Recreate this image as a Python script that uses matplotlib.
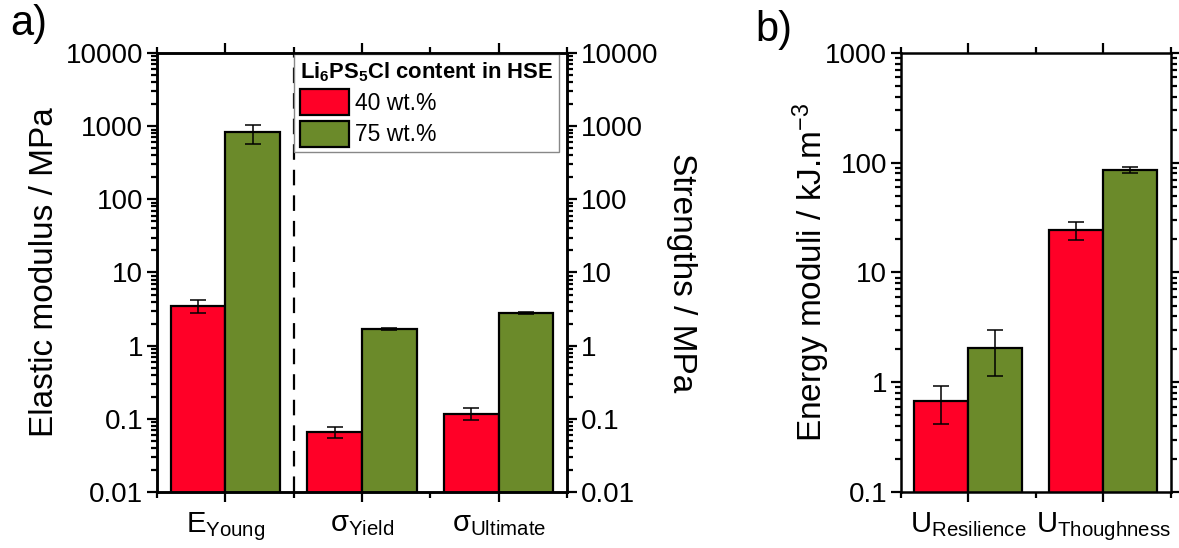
import numpy as np
import matplotlib
matplotlib.use('Agg')
import matplotlib.pyplot as plt
from matplotlib.patches import Patch
from matplotlib.ticker import LogLocator, FixedLocator, NullFormatter

plt.rcParams['font.family'] = ['Liberation Sans', 'DejaVu Sans']
plt.rcParams['mathtext.default'] = 'regular'

# panel a data
cats_a = ['$E_{Young}$', '$σ_{Yield}$', '$σ_{Ultimate}$']
a_40 = [3.5, 0.066, 0.118]
a_40_lo = [2.77, 0.054, 0.096]
a_40_hi = [4.2, 0.078, 0.142]
a_75 = [820, 1.7, 2.8]
a_75_lo = [570, 1.65, 2.75]
a_75_hi = [1045, 1.75, 2.85]

# panel b data
cats_b = ['$U_{Resilience}$', '$U_{Thoughness}$']
b_40 = [0.67, 24.2]
b_40_lo = [0.42, 19.7]
b_40_hi = [0.92, 28.6]
b_75 = [2.07, 86.3]
b_75_lo = [1.13, 80.0]
b_75_hi = [3.0, 91.6]

series = ['40 wt.%', '75 wt.%']
red = '#ff0027'
green = '#6b8a2a'

fig = plt.figure(figsize=(11.79, 5.48), dpi=100)
ax_a = fig.add_axes([0.1332, 0.1022, 0.3477, 0.8011])
ax_b = fig.add_axes([0.7642, 0.1022, 0.2290, 0.8011])

w = 0.4
bar_kw = dict(edgecolor='black', linewidth=1.6, zorder=2)
err_kw = dict(fmt='none', ecolor='black', elinewidth=1.1, capsize=5.5, capthick=1.1, zorder=3)


def draw_bars(ax, v40, lo40, hi40, v75, lo75, hi75):
    x = np.arange(len(v40))
    ax.bar(x - w / 2, v40, w, color=red, bottom=1e-5, **bar_kw)
    ax.bar(x + w / 2, v75, w, color=green, bottom=1e-5, **bar_kw)
    e40 = [np.array(v40) - np.array(lo40), np.array(hi40) - np.array(v40)]
    e75 = [np.array(v75) - np.array(lo75), np.array(hi75) - np.array(v75)]
    ax.errorbar(x - w / 2, v40, yerr=e40, **err_kw)
    ax.errorbar(x + w / 2, v75, yerr=e75, **err_kw)
    return x


def style(ax, n):
    ax.set_yscale('log')
    ax.set_xlim(-0.5, n - 0.5)
    ax.set_xticks(np.arange(n))
    ax.xaxis.set_minor_locator(FixedLocator(np.arange(n + 1) - 0.5))
    ax.yaxis.set_major_locator(LogLocator(base=10, numticks=20))
    ax.yaxis.set_minor_locator(LogLocator(base=10, subs=np.arange(2, 10), numticks=20))
    ax.yaxis.set_minor_formatter(NullFormatter())
    ax.tick_params(which='both', direction='out', width=1.6, top=True)
    ax.tick_params(which='major', length=7)
    ax.tick_params(which='minor', length=4.5)
    ax.tick_params(axis='y', labelsize=20, pad=3)
    ax.tick_params(axis='x', labelsize=21, pad=6)
    for s in ax.spines.values():
        s.set_linewidth(1.8)


# panel a
x = draw_bars(ax_a, a_40, a_40_lo, a_40_hi, a_75, a_75_lo, a_75_hi)
style(ax_a, len(cats_a))
ax_a.set_ylim(0.01, 10000)
ax_a.set_yticks([0.01, 0.1, 1, 10, 100, 1000, 10000])
ax_a.set_yticklabels(['0.01', '0.1', '1', '10', '100', '1000', '10000'])
ax_a.set_xticklabels(cats_a)
ax_a.set_ylabel('Elastic modulus / MPa', fontsize=24, labelpad=4)
ax_a.axvline(0.5, color='black', lw=1.6, ls=(0, (7, 4.5)), zorder=1)

ax_r = ax_a.twinx()
ax_r.set_yscale('log')
ax_r.set_ylim(0.01, 10000)
ax_r.yaxis.set_major_locator(LogLocator(base=10, numticks=20))
ax_r.yaxis.set_minor_locator(LogLocator(base=10, subs=np.arange(2, 10), numticks=20))
ax_r.yaxis.set_minor_formatter(NullFormatter())
ax_r.set_yticks([0.01, 0.1, 1, 10, 100, 1000, 10000])
ax_r.set_yticklabels(['0.01', '0.1', '1', '10', '100', '1000', '10000'])
ax_r.tick_params(which='both', direction='out', width=1.6)
ax_r.tick_params(which='major', length=7, labelsize=20, pad=3)
ax_r.tick_params(which='minor', length=4.5)
ax_r.set_ylabel('Strengths / MPa', fontsize=24, rotation=270, labelpad=28)
for s in ax_r.spines.values():
    s.set_linewidth(1.8)

handles = [Patch(facecolor=red, edgecolor='black', linewidth=1.6),
           Patch(facecolor=green, edgecolor='black', linewidth=1.6)]
leg = ax_a.legend(handles, series, title='Li$_6$PS$_5$Cl content in HSE',
                  loc='upper left', bbox_to_anchor=(0.334, 0.997), fontsize=16.5,
                  title_fontproperties={'weight': 'bold', 'size': 15.8},
                  frameon=True, fancybox=False, edgecolor='#888888', framealpha=1,
                  borderpad=0.25, labelspacing=0.25, handlelength=2.15, handleheight=1.35,
                  handletextpad=0.26, borderaxespad=0)
leg.get_frame().set_linewidth(1.0)
leg._legend_box.align = 'left'
leg.set_zorder(5)

# panel b
draw_bars(ax_b, b_40, b_40_lo, b_40_hi, b_75, b_75_lo, b_75_hi)
style(ax_b, len(cats_b))
ax_b.set_ylim(0.1, 1000)
ax_b.set_yticks([0.1, 1, 10, 100, 1000])
ax_b.set_yticklabels(['0.1', '1', '10', '100', '1000'])
ax_b.set_xticklabels(cats_b)
ax_b.tick_params(axis='y', which='both', right=True)
ax_b.set_ylabel('Energy moduli / kJ.m$^{-3}$', fontsize=24, labelpad=-5)

fig.text(0.009, 0.992, 'a)', fontsize=30, va='top')
fig.text(0.641, 0.982, 'b)', fontsize=30, va='top')

fig.savefig('out.png', dpi=100)
